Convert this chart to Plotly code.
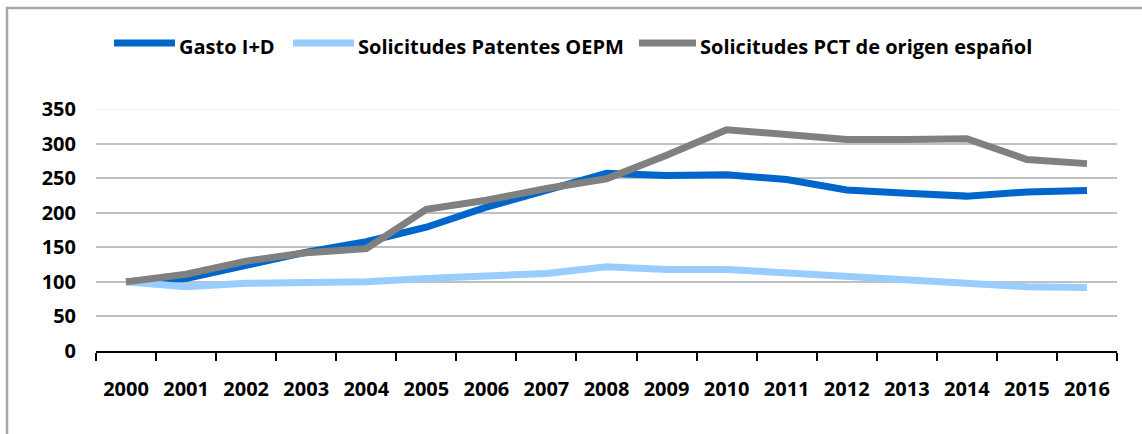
import plotly.graph_objects as go

years = [str(y) for y in range(2000, 2017)]

gasto_id = [100, 105, 124, 143, 158, 179, 208, 233, 257, 254, 255, 248, 233, 228, 224, 230, 232]
patentes_oepm = [100, 93, 98, 99, 100, 105, 108, 112, 122, 118, 118, 113, 108, 101, 98, 93, 92]
pct_espanol = [100, 111, 130, 142, 148, 205, 218, 235, 249, 283, 320, 312, 306, 306, 307, 277, 271]

series_names = ["Gasto I+D", "Solicitudes Patentes OEPM", "Solicitudes PCT de origen español"]
series_colors = ["#0066CC", "#99CCFF", "#808080"]

y_ticks = [0, 50, 100, 150, 200, 250, 300, 350]

# plot area in pixels
L, R, T, B = 96, 1117, 109, 351
W, H = 1142, 434


def px_x(p):
    return (p - L) / (R - L)


def px_y(p):
    return (B - p) / (B - T)


FONT = dict(family="Open Sans", size=20, color="black", weight="bold")

fig = go.Figure()
for name, vals, col in zip(series_names, [gasto_id, patentes_oepm, pct_espanol], series_colors):
    fig.add_trace(go.Scatter(
        x=years, y=vals, name=name, mode="lines",
        line=dict(color=col, width=7), showlegend=False,
    ))

fig.update_layout(
    width=W, height=H,
    margin=dict(l=L, r=W - R, t=T, b=H - B),
    plot_bgcolor="white",
    paper_bgcolor="white",
    font=FONT,
)

fig.update_xaxes(
    type="category", range=[-0.5, 16.5], automargin=False,
    showline=True, linecolor="black", linewidth=2,
    ticks="outside", tickson="boundaries", ticklen=8, tickwidth=2, tickcolor="black",
    showgrid=False, zeroline=False, ticklabelstandoff=19,
)
fig.update_yaxes(
    range=[0, 350], tickvals=y_ticks, automargin=False,
    showgrid=True, gridcolor="#C0C0C0", gridwidth=2,
    showline=False, zeroline=False, ticks="", ticklabelstandoff=19,
)

# top gridline is lighter in the reference
fig.add_shape(type="line", xref="paper", yref="y", x0=0, x1=1, y0=350, y1=350,
              line=dict(color="#EEEEEE", width=2), layer="below")

# legend drawn by hand: line swatch + label
legend_lines = [(114, 175), (293, 354), (639, 696)]
for (a, b), name, col in zip(legend_lines, series_names, series_colors):
    fig.add_shape(type="line", xref="paper", yref="paper",
                  x0=px_x(a), x1=px_x(b), y0=px_y(43), y1=px_y(43),
                  line=dict(color=col, width=7))
    fig.add_annotation(text=name, xref="paper", yref="paper", x=px_x(b + 2), y=px_y(46),
                       xanchor="left", yanchor="middle", showarrow=False, font=FONT)

# outer frame
fig.add_shape(type="rect", xref="paper", yref="paper",
              x0=px_x(7), x1=px_x(1160), y0=px_y(450), y1=px_y(8),
              line=dict(color="#A6A6A6", width=2.5), fillcolor="rgba(0,0,0,0)")

# drop the browser's default body margin so the figure sits at the page corner
fig.write_html("out.html", config={"displayModeBar": False},
               post_script="document.body.style.margin = '0px';")
